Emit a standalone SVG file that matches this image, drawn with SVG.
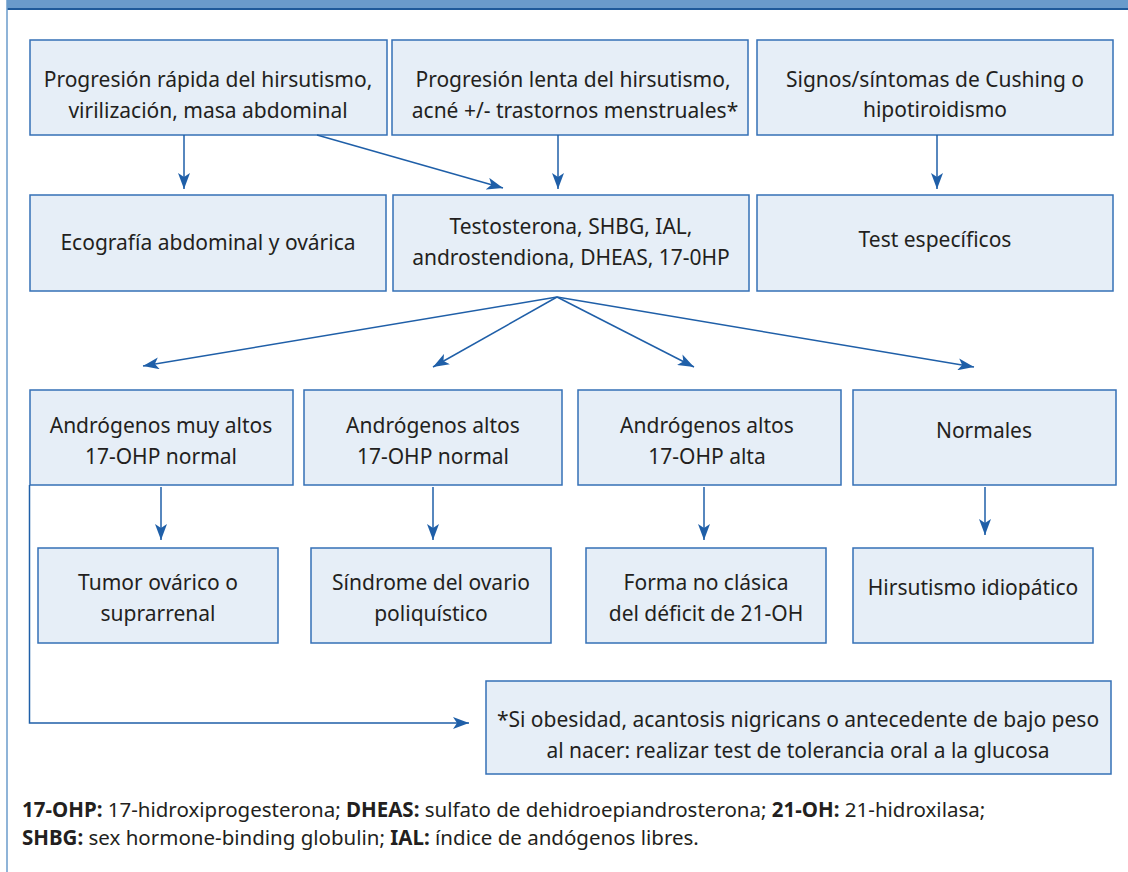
<svg xmlns="http://www.w3.org/2000/svg" width="1128" height="872" viewBox="0 0 1128 872">
<defs>
<marker id="ah" markerUnits="userSpaceOnUse" markerWidth="16" markerHeight="12" refX="16" refY="6" orient="auto">
<path d="M0,0 L16,6 L0,12 L4,6 z" fill="#1f5fa8"/>
</marker>
<style>
.box{fill:#e6eef7;stroke:#3570b6;stroke-width:1.5}
.t{font-family:"Noto Sans","Open Sans",sans-serif;font-size:21px;fill:#231f20;text-anchor:middle}
.lg{font-family:"Noto Sans","Open Sans",sans-serif;font-size:20.5px;fill:#231f20}
.b{font-weight:bold}
.c{fill:none;stroke:#1f5fa8;stroke-width:1.5}
.ca{fill:none;stroke:#1f5fa8;stroke-width:1.5;marker-end:url(#ah)}
</style>
</defs>
<rect x="0" y="0" width="1128" height="872" fill="#ffffff"/>
<rect x="7" y="0" width="1121" height="8" fill="#6a9bcb"/>
<rect x="7" y="8" width="1121" height="2" fill="#1f5a9a"/>
<line x1="7" y1="0" x2="7" y2="872" stroke="#6a9bcb" stroke-width="1.5"/>

<g id="n1"><rect class="box" x="30" y="40" width="357" height="95"/>
<text class="t" x="208" y="87">Progresión rápida del hirsutismo,</text>
<text class="t" x="208" y="118">virilización, masa abdominal</text></g>
<g id="n2"><rect class="box" x="392" y="40" width="356" height="95"/>
<text class="t" x="573" y="87">Progresión lenta del hirsutismo,</text>
<text class="t" x="575" y="118">acné +/- trastornos menstruales*</text></g>
<g id="n3"><rect class="box" x="757" y="40" width="356" height="95"/>
<text class="t" x="935" y="87">Signos/síntomas de Cushing o</text>
<text class="t" x="935" y="117">hipotiroidismo</text></g>

<g id="n4"><rect class="box" x="30" y="195" width="356" height="96"/>
<text class="t" x="208" y="250">Ecografía abdominal y ovárica</text></g>
<g id="n5"><rect class="box" x="393" y="195" width="356" height="96"/>
<text class="t" x="571" y="234">Testosterona, SHBG, IAL,</text>
<text class="t" x="571" y="265">androstendiona, DHEAS, 17-0HP</text></g>
<g id="n6"><rect class="box" x="757" y="195" width="356" height="96"/>
<text class="t" x="935" y="247">Test específicos</text></g>

<g id="n7"><rect class="box" x="30" y="390" width="263" height="95"/>
<text class="t" x="161" y="433">Andrógenos muy altos</text>
<text class="t" x="161" y="464">17-OHP normal</text></g>
<g id="n8"><rect class="box" x="304" y="390" width="258" height="95"/>
<text class="t" x="433" y="433">Andrógenos altos</text>
<text class="t" x="433" y="464">17-OHP normal</text></g>
<g id="n9"><rect class="box" x="578" y="390" width="263" height="95"/>
<text class="t" x="707" y="433">Andrógenos altos</text>
<text class="t" x="707" y="464">17-OHP alta</text></g>
<g id="n10"><rect class="box" x="853" y="390" width="263" height="95"/>
<text class="t" x="984" y="438">Normales</text></g>

<g id="n11"><rect class="box" x="38" y="548" width="240" height="95"/>
<text class="t" x="158" y="590">Tumor ovárico o</text>
<text class="t" x="158" y="621">suprarrenal</text></g>
<g id="n12"><rect class="box" x="311" y="548" width="240" height="95"/>
<text class="t" x="431" y="590">Síndrome del ovario</text>
<text class="t" x="431" y="621">poliquístico</text></g>
<g id="n13"><rect class="box" x="586" y="548" width="240" height="95"/>
<text class="t" x="706" y="590">Forma no clásica</text>
<text class="t" x="706" y="621">del déficit de 21-OH</text></g>
<g id="n14"><rect class="box" x="853" y="548" width="240" height="95"/>
<text class="t" x="973" y="595">Hirsutismo idiopático</text></g>

<g id="n15"><rect class="box" x="486" y="681" width="625" height="93"/>
<text class="t" x="798" y="727">*Si obesidad, acantosis nigricans o antecedente de bajo peso</text>
<text class="t" x="798" y="758">al nacer: realizar test de tolerancia oral a la glucosa</text></g>

<g id="connectors">
<line class="ca" x1="184" y1="135" x2="184" y2="189"/>
<line class="ca" x1="317" y1="135" x2="503" y2="188"/>
<line class="ca" x1="558" y1="135" x2="558" y2="189"/>
<line class="ca" x1="937" y1="135" x2="937" y2="189"/>
<line class="ca" x1="557" y1="297" x2="143" y2="366"/>
<line class="ca" x1="557" y1="297" x2="433" y2="367"/>
<line class="ca" x1="557" y1="297" x2="694" y2="367"/>
<line class="ca" x1="557" y1="297" x2="974" y2="367"/>
<line class="ca" x1="161" y1="487" x2="161" y2="540"/>
<line class="ca" x1="433" y1="487" x2="433" y2="540"/>
<line class="ca" x1="704" y1="487" x2="704" y2="540"/>
<line class="ca" x1="985" y1="487" x2="985" y2="535"/>
<polyline class="ca" points="29.5,485 29.5,723 469,723"/>
</g>

<g id="legend">
<text class="lg" x="22" y="817"><tspan class="b">17-OHP:</tspan> 17-hidroxiprogesterona; <tspan class="b">DHEAS:</tspan> sulfato de dehidroepiandrosterona; <tspan class="b">21-OH:</tspan> 21-hidroxilasa;</text>
<text class="lg" x="22" y="845"><tspan class="b">SHBG:</tspan> sex hormone-binding globulin; <tspan class="b">IAL:</tspan> índice de andógenos libres.</text>
</g>
</svg>
